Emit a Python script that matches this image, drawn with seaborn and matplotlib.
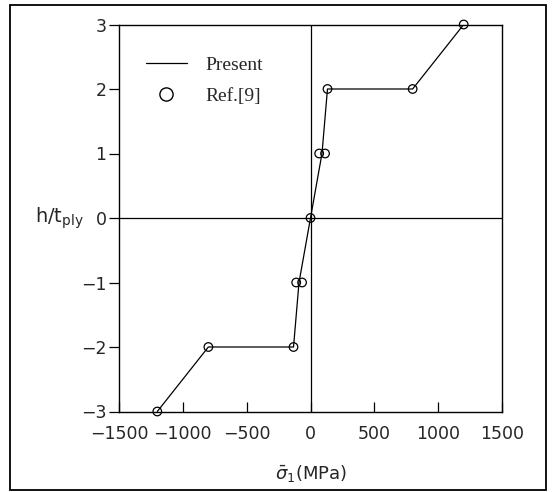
import matplotlib
matplotlib.use("Agg")
import matplotlib.pyplot as plt
from matplotlib.lines import Line2D
from matplotlib.patches import Rectangle
import seaborn as sns
import pandas as pd

# Present (line) data
line_sigma = [-1200, -800, -133, -90, 0, 90, 133, 800, 1200]
line_h = [-3, -2, -2, -1, 0, 1, 2, 2, 3]

# Ref.[9] (circles) data
ref_sigma = [-1200, -800, -133, -112, -66, 0, 68, 114, 133, 800, 1200]
ref_h = [-3, -2, -2, -1, -1, 0, 1, 1, 2, 2, 3]

x_ticks = [-1500, -1000, -500, 0, 500, 1000, 1500]
y_ticks = [-3, -2, -1, 0, 1, 2, 3]

sns.set_theme(style="white")
plt.rcParams['font.family'] = ['DejaVu Sans']
plt.rcParams['axes.unicode_minus'] = True

W, H = 553, 492
fig = plt.figure(figsize=(W / 100, H / 100), dpi=100)
ax = fig.add_axes([119 / W, 1 - 411.5 / H, (502 - 119) / W, (411.5 - 24.5) / H])

df_line = pd.DataFrame({"sigma": line_sigma, "h": line_h})
df_ref = pd.DataFrame({"sigma": ref_sigma, "h": ref_h})

ax.axhline(0, color="black", lw=0.9, zorder=1)
ax.axvline(0, color="black", lw=0.9, zorder=1)

sns.lineplot(data=df_line, x="sigma", y="h", sort=False, estimator=None,
             color="black", lw=0.9, ax=ax, zorder=2)
sns.scatterplot(data=df_ref, x="sigma", y="h", marker="o", s=38,
                facecolor="none", edgecolor="black", linewidth=0.9,
                ax=ax, zorder=3, clip_on=False)

ax.set_xlim(-1500, 1500)
ax.set_ylim(-3, 3)
ax.set_xticks(x_ticks)
ax.set_yticks(y_ticks)

for s in ax.spines.values():
    s.set_color("black")
    s.set_linewidth(1.0)

ax.tick_params(axis="x", direction="in", length=7, width=0.9, color="black",
               labelsize=12.5, pad=10, bottom=True)
ax.tick_params(axis="y", direction="out", length=7, width=0.9, color="black",
               labelsize=12.5, pad=2, left=True)

ax.set_xlabel(r"$\bar{\sigma}_1$(MPa)", fontsize=13, labelpad=14)
ax.set_ylabel(r"h/t$_{\mathrm{ply}}$", fontsize=14, rotation=0,
              ha="center", va="center")
ax.yaxis.set_label_coords(-0.155, 0.5)

handles = [Line2D([], [], color="black", lw=0.9),
           Line2D([], [], color="black", marker="o", ls="", markersize=9.5,
                  mfc="none", mew=1.0)]
ax.legend(handles, ["Present", "Ref.[9]"], loc="upper left",
          bbox_to_anchor=(146 / W, 1 - 56 / H), bbox_transform=fig.transFigure,
          frameon=False, borderpad=0, borderaxespad=0, handlelength=2.1,
          handletextpad=0.95, labelspacing=0.7,
          prop={"family": "Liberation Serif", "size": 14})

fig.patches.append(Rectangle((9.5 / W, 1 - 490 / H), (546 - 9.5) / W, (490 - 4.5) / H,
                             transform=fig.transFigure, fill=False,
                             edgecolor="black", lw=1.3))

fig.savefig("out.png", dpi=100)
